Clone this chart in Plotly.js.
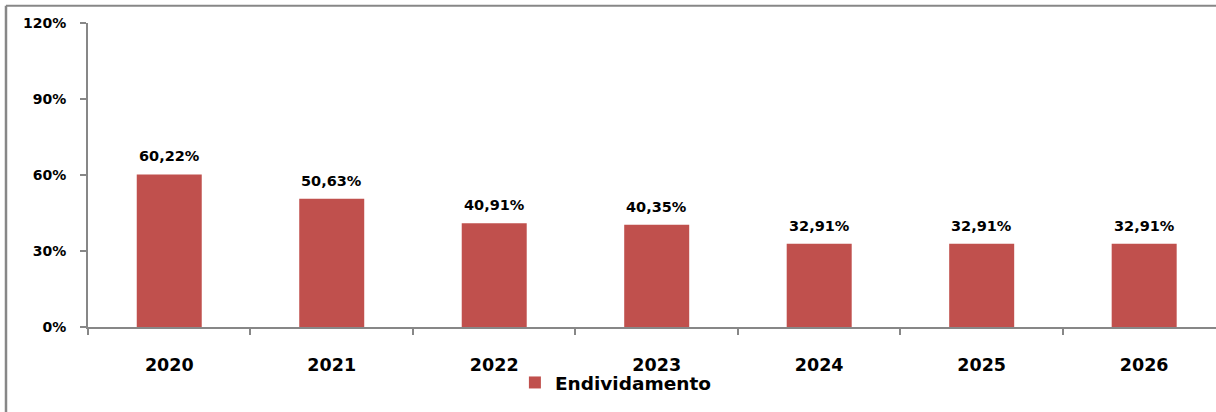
<!DOCTYPE html>
<html>
<head>
<meta charset="utf-8">
<script src="https://cdn.plot.ly/plotly-3.0.1.min.js"></script>
<style>html,body{margin:0;padding:0;background:#fff;}#chart{width:1216px;height:412px;}</style>
</head>
<body>
<div id="chart"></div>
<script>
const years = ['2020', '2021', '2022', '2023', '2024', '2025', '2026'];
const endividamento = [60.22, 50.63, 40.91, 40.35, 32.91, 32.91, 32.91];
const valueLabels = ['60,22%', '50,63%', '40,91%', '40,35%', '32,91%', '32,91%', '32,91%'];
const seriesName = 'Endividamento';
const yTicks = [0, 30, 60, 90, 120];
const yTickText = ['0%', '30%', '60%', '90%', '120%'];

const FONT = 'DejaVu Sans, Verdana, sans-serif';
const GRAY = '#878787';

const trace = {
  type: 'bar',
  x: years,
  y: endividamento,
  name: seriesName,
  width: 0.4,
  marker: {color: '#C0504D', line: {width: 0}},
  hoverinfo: 'skip'
};

const annotations = years.map((yr, i) => ({
  x: i, y: endividamento[i], xref: 'x', yref: 'y',
  text: '<b>' + valueLabels[i] + '</b>',
  showarrow: false, yanchor: 'bottom', yshift: 8,
  font: {family: FONT, size: 14.5, color: '#000000'}
}));

const layout = {
  width: 1216, height: 412,
  margin: {l: 88, r: 0, t: 23, b: 85},
  paper_bgcolor: '#fff', plot_bgcolor: '#fff',
  showlegend: true,
  legend: {
    orientation: 'h', x: 0.468, xanchor: 'center', y: -0.184, yanchor: 'middle',
    font: {family: FONT, size: 18.5, color: '#000', weight: 'bold'},
    bgcolor: 'rgba(0,0,0,0)'
  },
  xaxis: {
    type: 'category',
    range: [-0.5, 6.442],
    showline: true, linecolor: GRAY, linewidth: 2,
    ticks: 'outside', tickson: 'boundaries', ticklen: 6, tickcolor: GRAY, tickwidth: 2,
    showgrid: false, zeroline: false,
    tickfont: {family: FONT, size: 17.5, color: '#000', weight: 'bold'},
    ticklabelstandoff: 21
  },
  yaxis: {
    range: [0, 120],
    tickvals: yTicks, ticktext: yTickText,
    showline: true, linecolor: GRAY, linewidth: 2,
    ticks: 'outside', ticklen: 6, tickcolor: GRAY, tickwidth: 2,
    showgrid: false, zeroline: false,
    tickfont: {family: FONT, size: 14, color: '#000', weight: 'bold'},
    ticklabelstandoff: 11
  },
  annotations: annotations,
  shapes: [
    {type: 'line', xref: 'paper', yref: 'paper', x0: -0.0727, x1: -0.0727, y0: 1.057, y1: -0.3, line: {color: GRAY, width: 2.5}},
    {type: 'line', xref: 'paper', yref: 'paper', x0: -0.0727, x1: 1.01, y0: 1.057, y1: 1.057, line: {color: GRAY, width: 2}}
  ]
};

Plotly.newPlot('chart', [trace], layout, {displayModeBar: false, staticPlot: true});
</script>
</body>
</html>
